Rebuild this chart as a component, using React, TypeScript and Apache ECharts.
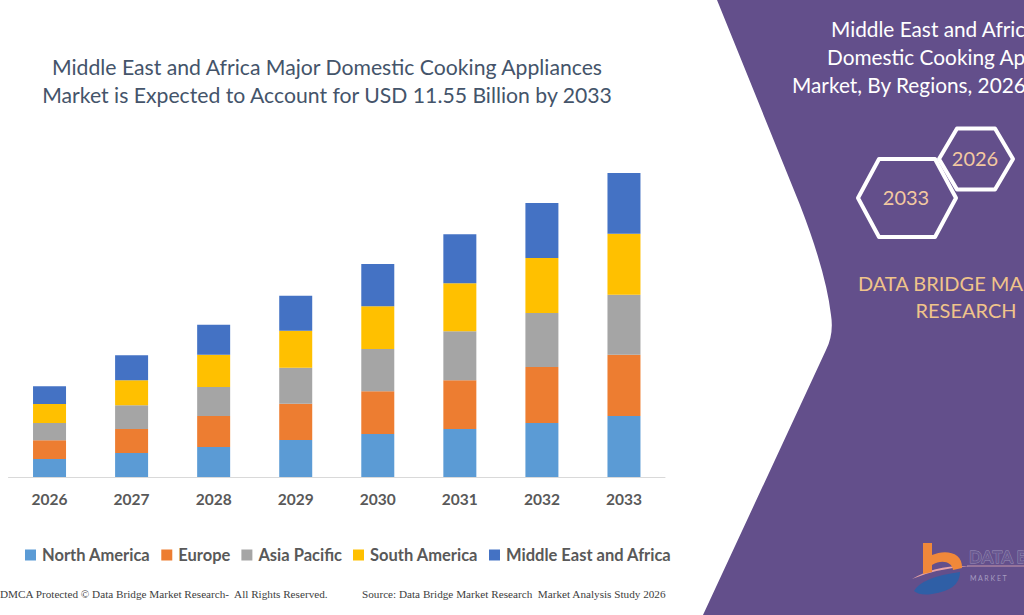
import React, { useEffect, useRef } from "react";
import * as echarts from "echarts";

// Market size by region, USD billion
const years = ["2026", "2027", "2028", "2029", "2030", "2031", "2032", "2033"];
const regions = ["North America", "Europe", "Asia Pacific", "South America", "Middle East and Africa"];
const northAmerica = [0.68, 0.91, 1.14, 1.41, 1.63, 1.82, 2.05, 2.32];
const europe = [0.72, 0.91, 1.18, 1.37, 1.63, 1.86, 2.13, 2.32];
const asiaPacific = [0.65, 0.91, 1.1, 1.37, 1.6, 1.86, 2.05, 2.28];
const southAmerica = [0.72, 0.95, 1.22, 1.41, 1.63, 1.82, 2.09, 2.32];
const middleEastAfrica = [0.68, 0.95, 1.14, 1.33, 1.6, 1.86, 2.09, 2.31];
const regionColors = ["#5b9bd5", "#ed7d31", "#a5a5a5", "#ffc000", "#4472c4"];

const titleLines = [
  "Middle East and Africa Major Domestic Cooking Appliances",
  "Market is Expected to Account for USD 11.55 Billion by 2033",
];
const panelLines = [
  "Middle East and Africa Major",
  "Domestic Cooking Appliances",
  "Market, By Regions, 2026 to 2033",
];

const PURPLE = "#634f8b";

echarts.graphic.registerShape(
  "sidePanel",
  echarts.graphic.extendPath(
    "M717,0 L800,205 Q826,272 831,315 Q834,334 826,350 L703,615 L1024,615 L1024,0 Z",
    {}
  )
);
echarts.graphic.registerShape(
  "logoB",
  echarts.graphic.extendPath(
    "M923,543 L932,543 L932,555 C945,549 963,552 962,568 L953,570 C952,562 942,559 932,565 L932,572 L923,574 Z",
    {}
  )
);
echarts.graphic.registerShape(
  "logoSwoosh",
  echarts.graphic.extendPath("M912,579 Q935,565 969,566 Q935,569 912,579 Z", {})
);
echarts.graphic.registerShape(
  "logoD",
  echarts.graphic.extendPath(
    "M914,591 Q922,577 960,572 Q960,590 932,594 Q920,596 914,591 Z M926,585 Q932,578 950,576 Q948,587 930,589 Z",
    {}
  )
);

function hexagon(cx: number, cy: number, halfW: number, halfH: number, inset: number) {
  return [
    [cx - halfW, cy],
    [cx - halfW + inset, cy - halfH],
    [cx + halfW - inset, cy - halfH],
    [cx + halfW, cy],
    [cx + halfW - inset, cy + halfH],
    [cx - halfW + inset, cy + halfH],
  ];
}

export default function App() {
  const ref = useRef<HTMLDivElement>(null);

  useEffect(() => {
    if (!ref.current) return;
    const chart = echarts.init(ref.current, null, { renderer: "svg" });
    const seriesData = [northAmerica, europe, asiaPacific, southAmerica, middleEastAfrica];

    const text = (
      x: number,
      y: number,
      t: string,
      size: number,
      fill: string,
      extra: Record<string, unknown> = {}
    ) => ({
      type: "text",
      x,
      y,
      silent: true,
      style: {
        text: t,
        fontSize: size,
        fontFamily: "Lato",
        fill,
        align: "left",
        verticalAlign: "middle",
        ...extra,
      },
    });

    chart.setOption({
      animation: false,
      backgroundColor: "#ffffff",
      grid: { left: 8.5, right: 359, top: 108.5, bottom: 138, containLabel: false },
      xAxis: {
        type: "category",
        data: years,
        axisLine: { lineStyle: { color: "#d9d9d9", width: 1 } },
        axisTick: { show: false },
        axisLabel: {
          color: "#595959",
          fontFamily: "Lato",
          fontWeight: "bold",
          fontSize: 15.5,
          margin: 14,
        },
      },
      yAxis: { type: "value", min: 0, max: 14, show: false, splitLine: { show: false } },
      legend: {
        data: regions,
        left: 25,
        top: 545,
        padding: 0,
        icon: "rect",
        itemWidth: 11,
        itemHeight: 11,
        itemGap: 11,
        textStyle: {
          color: "#595959",
          fontFamily: "Lato",
          fontWeight: "bold",
          fontSize: 16.5,
          lineHeight: 20,
          padding: [0, 0, 0, 1],
        },
      },
      series: regions.map((name, i) => ({
        name,
        type: "bar",
        stack: "total",
        barWidth: 33,
        data: seriesData[i],
        itemStyle: { color: regionColors[i] },
      })),
      graphic: [
        // chart heading
        ...titleLines.map((t, i) =>
          text(327, 67 + i * 28, t, 21.2, "#44546a", { align: "center" })
        ),
        // footer notes
        text(0, 594, "DMCA Protected © Data Bridge Market Research-  All Rights Reserved.", 11.2, "#404040", {
          fontFamily: "Liberation Serif",
        }),
        text(362, 594, "Source: Data Bridge Market Research  Market Analysis Study 2026", 11.2, "#404040", {
          fontFamily: "Liberation Serif",
        }),
        // purple side panel
        { type: "sidePanel", x: 0, y: 0, silent: true, style: { fill: PURPLE } },
        text(831, 28, panelLines[0], 20.8, "#ffffff"),
        text(827, 56, panelLines[1], 20.8, "#ffffff"),
        text(792, 84, panelLines[2], 20.8, "#ffffff"),
        {
          type: "polygon",
          silent: true,
          shape: { points: hexagon(976, 159, 37, 30.5, 18) },
          style: { fill: "none", stroke: "#ffffff", lineWidth: 4, lineJoin: "round" },
        },
        {
          type: "polygon",
          silent: true,
          shape: { points: hexagon(907, 198, 49, 39, 21) },
          style: { fill: "none", stroke: "#ffffff", lineWidth: 4, lineJoin: "round" },
        },
        text(975, 158, "2026", 20, "#f3c9a1", { align: "center" }),
        text(906, 197, "2033", 20, "#f3c9a1", { align: "center" }),
        text(965, 283, "DATA BRIDGE MARKET", 20, "#f0c48a", { align: "center" }),
        text(966, 310, "RESEARCH", 20, "#f0c48a", { align: "center" }),
        // logo
        { type: "logoSwoosh", x: 0, y: 0, silent: true, style: { fill: "#e7a3a6" } },
        { type: "logoB", x: 0, y: 0, silent: true, style: { fill: "#f0883a" } },
        { type: "logoD", x: 0, y: 0, silent: true, style: { fill: "#2f5fa6", fillRule: "evenodd" } },
        text(969, 556, "DATA BRIDGE", 17, "#6a5a92", {
          stroke: "#9f94ba",
          lineWidth: 0.8,
          fontWeight: "bold",
        }),
        {
          type: "line",
          silent: true,
          shape: { x1: 967, y1: 566, x2: 1024, y2: 566 },
          style: { stroke: "#c89aab", lineWidth: 1 },
        },
        text(970, 578, "M A R K E T", 7, "#a69cc0"),
      ],
    });

    return () => chart.dispose();
  }, []);

  return (
    <div
      ref={ref}
      style={{ position: "fixed", left: 0, top: 0, width: 1024, height: 615, background: "#fff" }}
    />
  );
}
